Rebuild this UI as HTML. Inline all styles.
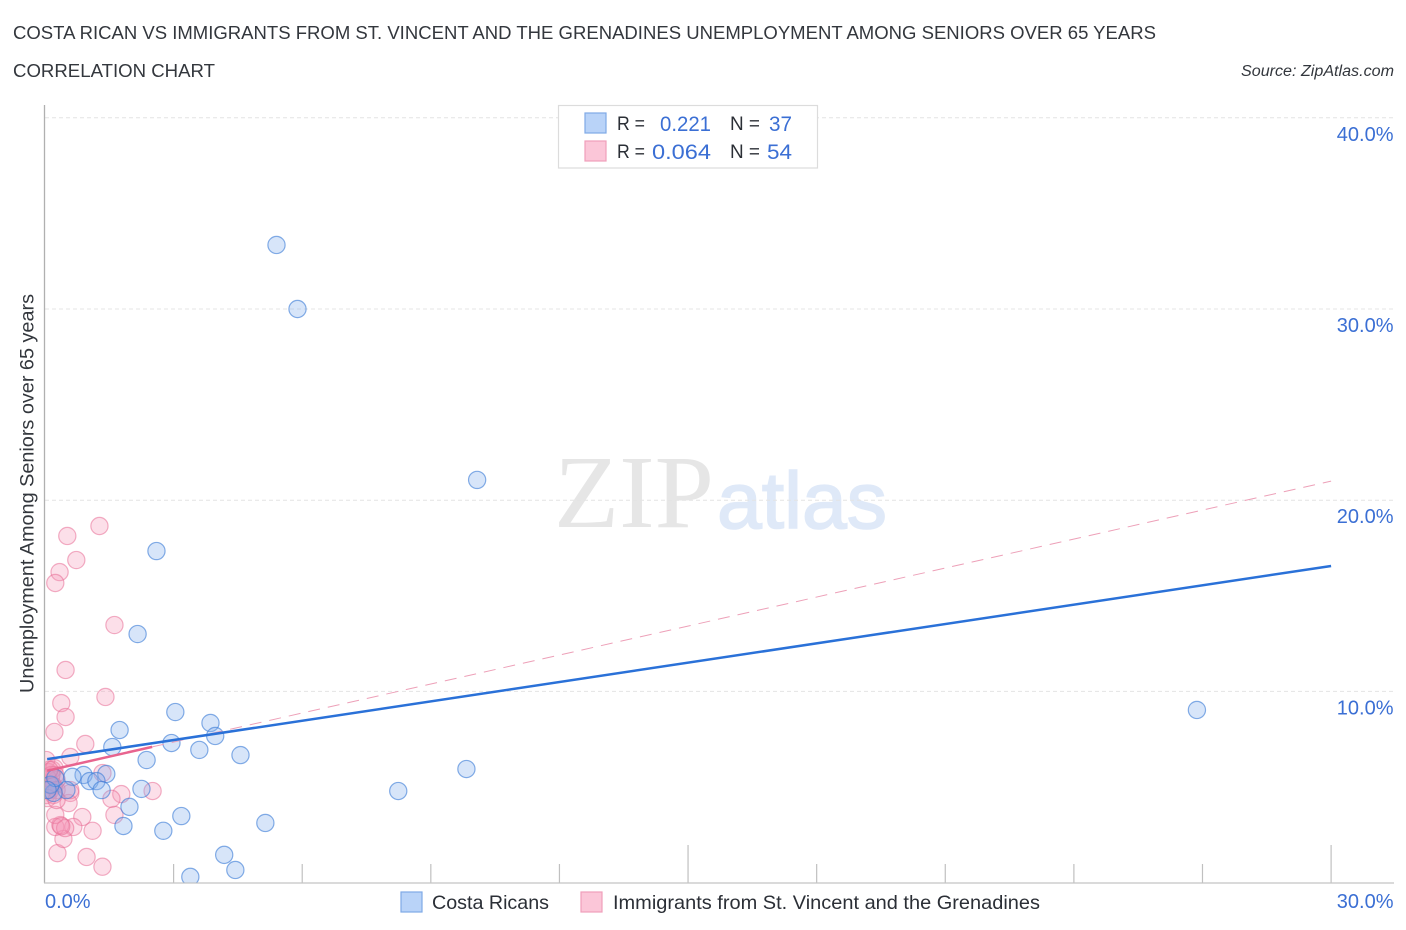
<!DOCTYPE html>
<html>
<head>
<meta charset="utf-8">
<title>Costa Rican vs Immigrants from St. Vincent and the Grenadines Correlation Chart</title>
<style>
html,body{margin:0;padding:0;background:#fff;width:1406px;height:930px;overflow:hidden}
svg{display:block;font-family:"Liberation Sans",sans-serif}
</style>
</head>
<body>
<svg id="chart" width="1406" height="930" viewBox="0 0 1406 930" xmlns="http://www.w3.org/2000/svg">
  <defs>
    <clipPath id="plot-clip"><rect x="45" y="105" width="1350" height="777.5"/></clipPath>
  </defs>
  <text x="13" y="39" font-size="18.5" fill="#33373d" textLength="1143" lengthAdjust="spacingAndGlyphs">COSTA RICAN VS IMMIGRANTS FROM ST. VINCENT AND THE GRENADINES UNEMPLOYMENT AMONG SENIORS OVER 65 YEARS</text>
  <text x="13" y="77" font-size="18.5" fill="#33373d" textLength="202" lengthAdjust="spacingAndGlyphs">CORRELATION CHART</text>
  <text x="1241" y="76" font-size="15.5" font-style="italic" fill="#33373d" textLength="153" lengthAdjust="spacingAndGlyphs">Source: ZipAtlas.com</text>

  <g>
    <text x="554" y="527" font-family="'Liberation Serif',serif" font-size="104" fill="#e6e6e6" textLength="160" lengthAdjust="spacingAndGlyphs">ZIP</text>
    <text x="717" y="528" font-size="80" fill="#dfe9f8" stroke="#dfe9f8" stroke-width="1.6" textLength="170" lengthAdjust="spacingAndGlyphs">atlas</text>
  </g>

  <g id="grid"></g>
  <g id="ticks"></g>
  <g id="ylabels"></g>

  <line x1="44.5" y1="105" x2="44.5" y2="883" stroke="#b0b0b0" stroke-width="1.3"/>
  <line x1="44" y1="883" x2="1394" y2="883" stroke="#c4c4c4" stroke-width="1.3"/>

  <g id="points" clip-path="url(#plot-clip)"></g>
  <g id="trends"></g>

  <text x="45" y="908" font-size="20" fill="#3b6fd4">0.0%</text>
  <text x="1393.5" y="908" font-size="20" fill="#3b6fd4" text-anchor="end">30.0%</text>
  <text transform="translate(33.5,493.5) rotate(-90)" font-size="19" fill="#33373d" text-anchor="middle" textLength="399" lengthAdjust="spacingAndGlyphs">Unemployment Among Seniors over 65 years</text>

  <g>
    <rect x="558.5" y="105.5" width="259" height="62.5" fill="#fff" stroke="#dcdcdc" stroke-width="1.2"/>
    <rect x="585" y="113" width="21" height="20" fill="#b9d3f8" stroke="#7fa9e6" stroke-width="1.2"/>
    <rect x="585" y="141" width="21" height="20" fill="#fbc6d8" stroke="#ef9fba" stroke-width="1.2"/>
    <text x="617" y="130" font-size="19" fill="#2b2f36" textLength="28" lengthAdjust="spacingAndGlyphs">R =</text>
    <text x="660" y="131" font-size="21.5" fill="#3b6fd4" textLength="51" lengthAdjust="spacingAndGlyphs">0.221</text>
    <text x="730" y="130" font-size="19" fill="#2b2f36" textLength="30" lengthAdjust="spacingAndGlyphs">N =</text>
    <text x="769" y="131" font-size="21.5" fill="#3b6fd4" textLength="23" lengthAdjust="spacingAndGlyphs">37</text>
    <text x="617" y="158" font-size="19" fill="#2b2f36" textLength="28" lengthAdjust="spacingAndGlyphs">R =</text>
    <text x="652" y="159" font-size="21.5" fill="#3b6fd4" textLength="59" lengthAdjust="spacingAndGlyphs">0.064</text>
    <text x="730" y="158" font-size="19" fill="#2b2f36" textLength="30" lengthAdjust="spacingAndGlyphs">N =</text>
    <text x="767" y="159" font-size="21.5" fill="#3b6fd4" textLength="25" lengthAdjust="spacingAndGlyphs">54</text>
  </g>

  <g>
    <rect x="401" y="892" width="21" height="20" fill="#b9d3f8" stroke="#7fa9e6" stroke-width="1.2"/>
    <text x="432" y="909" font-size="19.5" fill="#2b2f36" textLength="117" lengthAdjust="spacingAndGlyphs">Costa Ricans</text>
    <rect x="581" y="892" width="21" height="20" fill="#fbc6d8" stroke="#ef9fba" stroke-width="1.2"/>
    <text x="613" y="909" font-size="19.5" fill="#2b2f36" textLength="427" lengthAdjust="spacingAndGlyphs">Immigrants from St. Vincent and the Grenadines</text>
  </g>
</svg>
<script>
const yTickValues = [10, 20, 30, 40];
const yTickLabels = ["10.0%", "20.0%", "30.0%", "40.0%"];
const xTickValues = [3, 6, 9, 12, 15, 18, 21, 24, 27, 30];
const xMajorTicks = [15, 30];

const blueX = [5.40,5.89,10.08,2.60,2.16,26.87,3.04,3.86,1.74,3.97,1.57,2.95,3.60,4.56,2.37,9.83,8.24,1.43,0.90,0.64,1.04,1.20,1.32,2.25,1.97,3.18,1.83,2.76,5.14,4.18,4.44,3.39,0.50,0.20,0.13,0.24,0.06];
const blueY = [33.35,30.0,21.06,17.34,13.0,9.03,8.92,8.35,7.98,7.67,7.09,7.30,6.94,6.67,6.41,5.94,4.79,5.68,5.63,5.53,5.31,5.31,4.84,4.90,3.96,3.48,2.96,2.71,3.12,1.45,0.66,0.30,4.84,4.69,5.12,5.47,4.84];

const pinkX = [1.27,0.52,0.73,0.34,0.24,1.62,0.48,1.41,0.38,0.48,0.22,0.94,0.59,0.03,1.34,1.78,1.55,2.51,1.62,1.11,0.29,0.97,1.34,0.87,0.66,0.43,0.24,0.36,0.47,0.59,0.55,0.24,0.38,0.08,0.13,0.17,0.22,0.27,0.08,0.13,0.03,0.20,0.10,0.05,0.24,0.06,0.17,0.15,0.20,0.27,0.06,0.59,0.27,0.10];
const pinkY = [18.65,18.13,16.87,16.24,15.67,13.47,11.12,9.71,9.39,8.66,7.88,7.25,6.57,6.41,5.73,4.63,4.38,4.79,3.54,2.71,1.54,1.34,0.83,3.43,2.91,2.28,2.91,3.01,2.85,4.69,4.16,3.54,2.95,5.78,5.47,5.90,5.99,5.37,5.10,4.84,4.58,4.58,5.10,4.84,5.63,5.47,5.10,5.63,5.05,4.84,4.42,4.84,4.32,5.90];

const blueTrendX = [0.05, 30];
const blueTrendY = [6.46, 16.56];
const pinkSolidX = [0.05, 2.5];
const pinkSolidY = [5.85, 7.1];
const pinkDashX = [2.5, 30];
const pinkDashY = [7.1, 21.0];

const NS = 'http://www.w3.org/2000/svg';
function xScale(v) { return 45 + v * 42.87; }
function yScale(v) { return 882.6 - v * 19.12; }
function make(tag, attrs) {
  const el = document.createElementNS(NS, tag);
  for (const k in attrs) el.setAttribute(k, attrs[k]);
  return el;
}

const grid = document.getElementById('grid');
const ylabels = document.getElementById('ylabels');
yTickValues.forEach(function (v, i) {
  const line = make('line', {x1: 45, x2: 1393, y1: yScale(v), y2: yScale(v), stroke: '#e4e4e4', 'stroke-width': 1, 'stroke-dasharray': '4 3'});
  
  
  grid.appendChild(line);
  const t = make('text', {x: 1393.5, y: yScale(v) + 23, 'font-size': 20, fill: '#3b6fd4', 'text-anchor': 'end'});
  
  
  t.textContent = yTickLabels[i];
  ylabels.appendChild(t);
});

const ticks = document.getElementById('ticks');
xTickValues.forEach(function (v) {
  const major = xMajorTicks.indexOf(v) >= 0;
  const tick = make('line', {x1: xScale(v), x2: xScale(v), y1: major ? 845 : 864, y2: 883, stroke: '#c0c0c0', 'stroke-width': 1.2});
  
  
  ticks.appendChild(tick);
});

const points = document.getElementById('points');
pinkX.forEach(function (x, i) {
  const c = make('circle', {cx: xScale(x), cy: yScale(pinkY[i]), r: 8.6, fill: 'rgba(246,150,182,0.30)', stroke: 'rgba(232,110,150,0.55)', 'stroke-width': 1.2});
  
  
  points.appendChild(c);
});
blueX.forEach(function (x, i) {
  const c = make('circle', {cx: xScale(x), cy: yScale(blueY[i]), r: 8.6, fill: 'rgba(130,175,235,0.32)', stroke: 'rgba(60,125,215,0.62)', 'stroke-width': 1.2});
  
  
  points.appendChild(c);
});

const trends = document.getElementById('trends');
const pinkDash = make('line', {x1: xScale(pinkDashX[0]), y1: yScale(pinkDashY[0]), x2: xScale(pinkDashX[1]), y2: yScale(pinkDashY[1]), stroke: '#eda0b8', 'stroke-width': 1, 'stroke-dasharray': '12 8'});


trends.appendChild(pinkDash);
const pinkSolid = make('line', {x1: xScale(pinkSolidX[0]), y1: yScale(pinkSolidY[0]), x2: xScale(pinkSolidX[1]), y2: yScale(pinkSolidY[1]), stroke: '#e8648f', 'stroke-width': 2.5});


trends.appendChild(pinkSolid);
const blueTrend = make('line', {x1: xScale(blueTrendX[0]), y1: yScale(blueTrendY[0]), x2: xScale(blueTrendX[1]), y2: yScale(blueTrendY[1]), stroke: '#2a71d8', 'stroke-width': 2.5});


trends.appendChild(blueTrend);
</script>
</body>
</html>
